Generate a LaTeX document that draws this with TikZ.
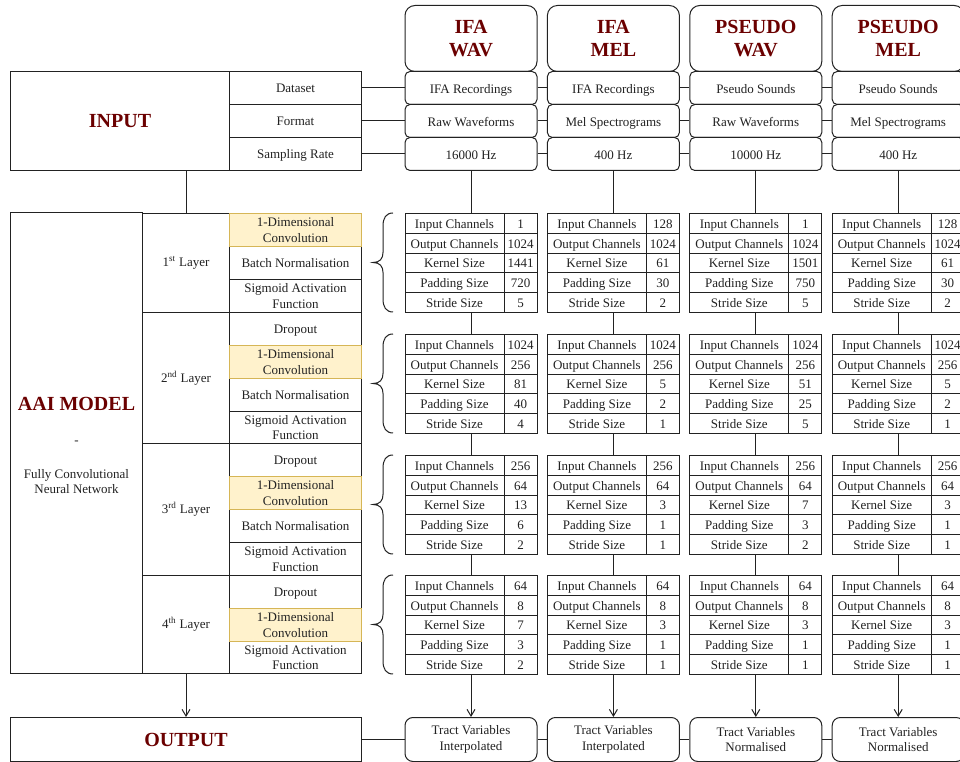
\documentclass[tikz,border=0pt]{standalone}
\usepackage{fontspec}
\setmainfont{Liberation Serif}
\usetikzlibrary{arrows.meta}
\definecolor{hred}{HTML}{6B0000}
\definecolor{ylfill}{HTML}{FFF2CC}
\definecolor{yldraw}{HTML}{D6B656}
\definecolor{ln}{HTML}{222222}
\newcommand\bigf{\fontsize{15}{17.25}\selectfont\bfseries\color{hred}}
\newcommand\sst{\rule[-2.6pt]{0pt}{12.6pt}}
\newcommand\dst{\rule[-2.6pt]{0pt}{13.8pt}}
% box by pixel corners: name, x1, y1, x2, y2, style, text
\newcommand\bx[7]{\node[#6, anchor=north west, inner sep=0pt, minimum width={((#4)-(#2))*0.75pt}, minimum height={((#5)-(#3))*0.75pt}] (#1) at (#2,#3) {#7};}
\newcommand\prow[5]{\bx{#1L}{#2}{#3}{#2+99}{#3+19.8}{tcell}{\sst #4}\bx{#1R}{#2+99}{#3}{#2+132}{#3+19.8}{tcell}{\sst #5}}
% table: name, x0, y0, five values
\newcommand\ptab[8]{%
  \node[anchor=north west, inner sep=0pt, minimum width=99pt, minimum height=74.25pt] (#1) at (#2,#3) {};
  \prow{#1a}{#2}{#3}{Input Channels}{#4}
  \prow{#1b}{#2}{#3+19.8}{Output Channels}{#5}
  \prow{#1c}{#2}{#3+39.6}{Kernel Size}{#6}
  \prow{#1d}{#2}{#3+59.4}{Padding Size}{#7}
  \prow{#1e}{#2}{#3+79.2}{Stride Size}{#8}
}
% column: index, x0, header, dataset, format, rate, output
\newcommand\pcol[7]{%
  \bx{H#1}{#2}{5}{#2+132}{71}{hdr}{#3}
  \bx{D#1}{#2}{71}{#2+132}{104}{dbox}{\dst #4}
  \bx{F#1}{#2}{104}{#2+132}{137}{dbox}{\dst #5}
  \bx{S#1}{#2}{137}{#2+132}{170}{dbox}{\dst #6}
  \bx{O#1}{#2}{717}{#2+132}{761}{obox}{#7}
}
% curly brace: top, mid, bottom
\newcommand\cbrace[3]{%
  \draw (393,#1) .. controls (386,#1) and (383,#1+5) .. (383,#1+13) -- (383,#2-10)
    .. controls (383,#2-4) and (380,#2) .. (373,#2)
    .. controls (380,#2) and (383,#2+4) .. (383,#2+10) -- (383,#3-13)
    .. controls (383,#3-5) and (386,#3) .. (393,#3);}
\begin{document}
\begin{tikzpicture}[x=0.75pt, y=-0.75pt, line width=0.75pt, color=ln,
  every node/.style={font=\fontsize{9.75}{11.5}\selectfont, align=center},
  tcell/.style={draw},
  conv/.style={draw=yldraw, fill=ylfill},
  hdr/.style={draw, rounded corners=7.5pt, font=\fontsize{15}{17.25}\selectfont\bfseries, text=hred},
  dbox/.style={draw, rounded corners=3.75pt},
  obox/.style={draw, rounded corners=6pt},
  arrowed/.style={-{Straight Barb[length=5pt,width=6pt]}}]
\useasboundingbox (0,0) rectangle (960,762);
\clip (0,0) rectangle (960,762);
\fill[white] (0,0) rectangle (960,762);

% INPUT block
\node[anchor=north west, inner sep=0pt, minimum width=263.25pt, minimum height=74.25pt] (inp) at (10,71) {};
\bx{inL}{10}{71}{229}{170}{tcell}{\bigf INPUT}
\bx{lD}{229}{71}{361}{104}{tcell}{\sst Dataset}
\bx{lF}{229}{104}{361}{137}{tcell}{\sst Format}
\bx{lS}{229}{137}{361}{170}{tcell}{\sst Sampling Rate}

% AAI block
\node[anchor=north west, inner sep=0pt, minimum width=263.25pt, minimum height=345pt] (aai) at (10,213) {};
\bx{aaiL}{10}{215}{142}{675}{}{{\bigf AAI MODEL}\\[14pt]-\\[13.5pt]Fully Convolutional\\Neural Network}
\draw (10,213) rectangle (142,673);
\bx{ly1}{142}{213}{229}{312}{tcell}{1\textsuperscript{st} Layer}
\bx{ly2}{142}{312}{229}{443}{tcell}{2\textsuperscript{nd} Layer}
\bx{ly3}{142}{443}{229}{575}{tcell}{3\textsuperscript{rd} Layer}
\bx{ly4}{142}{575}{229}{673}{tcell}{4\textsuperscript{th} Layer}
% layer 1
\bx{a1b}{229}{246}{361}{279}{tcell}{\sst Batch Normalisation}
\bx{a1c}{229}{279}{361}{312}{tcell}{Sigmoid Activation\\Function}
% layer 2
\bx{a2a}{229}{312}{361}{345}{tcell}{\sst Dropout}
\bx{a2c}{229}{378}{361}{411}{tcell}{\sst Batch Normalisation}
\bx{a2d}{229}{411}{361}{443}{tcell}{Sigmoid Activation\\Function}
% layer 3
\bx{a3a}{229}{443}{361}{476}{tcell}{\sst Dropout}
\bx{a3c}{229}{509}{361}{542}{tcell}{\sst Batch Normalisation}
\bx{a3d}{229}{542}{361}{575}{tcell}{Sigmoid Activation\\Function}
% layer 4
\bx{a4a}{229}{575}{361}{608}{tcell}{\sst Dropout}
\bx{a4c}{229}{641}{361}{673}{tcell}{Sigmoid Activation\\Function}
% convolution cells on top
\bx{a1a}{229}{213}{361}{246}{conv}{1-Dimensional\\Convolution}
\bx{a2b}{229}{345}{361}{378}{conv}{1-Dimensional\\Convolution}
\bx{a3b}{229}{476}{361}{509}{conv}{1-Dimensional\\Convolution}
\bx{a4b}{229}{608}{361}{641}{conv}{1-Dimensional\\Convolution}

% OUTPUT
\bx{outp}{10}{717}{361}{761}{tcell}{\bigf OUTPUT}

% columns
\pcol{0}{404.5}{IFA\\WAV}{IFA Recordings}{Raw Waveforms}{16000 Hz}{Tract Variables\\Interpolated}
\pcol{1}{546.9}{IFA\\MEL}{IFA Recordings}{Mel Spectrograms}{400 Hz}{Tract Variables\\Interpolated}
\pcol{2}{689.3}{PSEUDO\\WAV}{Pseudo Sounds}{Raw Waveforms}{10000 Hz}{Tract Variables\\Normalised}
\pcol{3}{831.7}{PSEUDO\\MEL}{Pseudo Sounds}{Mel Spectrograms}{400 Hz}{Tract Variables\\Normalised}

% tables
\ptab{T01}{404.5}{213}{1}{1024}{1441}{720}{5}
\ptab{T02}{404.5}{334}{1024}{256}{81}{40}{4}
\ptab{T03}{404.5}{455}{256}{64}{13}{6}{2}
\ptab{T04}{404.5}{575}{64}{8}{7}{3}{2}
\ptab{T11}{546.9}{213}{128}{1024}{61}{30}{2}
\ptab{T12}{546.9}{334}{1024}{256}{5}{2}{1}
\ptab{T13}{546.9}{455}{256}{64}{3}{1}{1}
\ptab{T14}{546.9}{575}{64}{8}{3}{1}{1}
\ptab{T21}{689.3}{213}{1}{1024}{1501}{750}{5}
\ptab{T22}{689.3}{334}{1024}{256}{51}{25}{5}
\ptab{T23}{689.3}{455}{256}{64}{7}{3}{2}
\ptab{T24}{689.3}{575}{64}{8}{3}{1}{1}
\ptab{T31}{831.7}{213}{128}{1024}{61}{30}{2}
\ptab{T32}{831.7}{334}{1024}{256}{5}{2}{1}
\ptab{T33}{831.7}{455}{256}{64}{3}{1}{1}
\ptab{T34}{831.7}{575}{64}{8}{3}{1}{1}

% braces
\cbrace{213}{262.5}{312}
\cbrace{334}{383.5}{433}
\cbrace{455}{504.5}{554}
\cbrace{575}{624.5}{674}

% connectors
\draw (lD.east) -- (D0.west) (D0.east) -- (D1.west) (D1.east) -- (D2.west) (D2.east) -- (D3.west);
\draw (lF.east) -- (F0.west) (F0.east) -- (F1.west) (F1.east) -- (F2.west) (F2.east) -- (F3.west);
\draw (lS.east) -- (S0.west) (S0.east) -- (S1.west) (S1.east) -- (S2.west) (S2.east) -- (S3.west);
\draw (outp.east) -- (O0.west) (O0.east) -- (O1.west) (O1.east) -- (O2.west) (O2.east) -- (O3.west);
\draw (inp.south) -- (aai.north);
\draw[arrowed] (aai.south) -- (outp.north);
\foreach \c in {0,1,2,3}{
  \draw (S\c.south) -- (T\c1.north);
  \draw (T\c1.south) -- (T\c2.north);
  \draw (T\c2.south) -- (T\c3.north);
  \draw (T\c3.south) -- (T\c4.north);
  \draw[arrowed] (T\c4.south) -- (O\c.north);
}
\end{tikzpicture}
\end{document}
